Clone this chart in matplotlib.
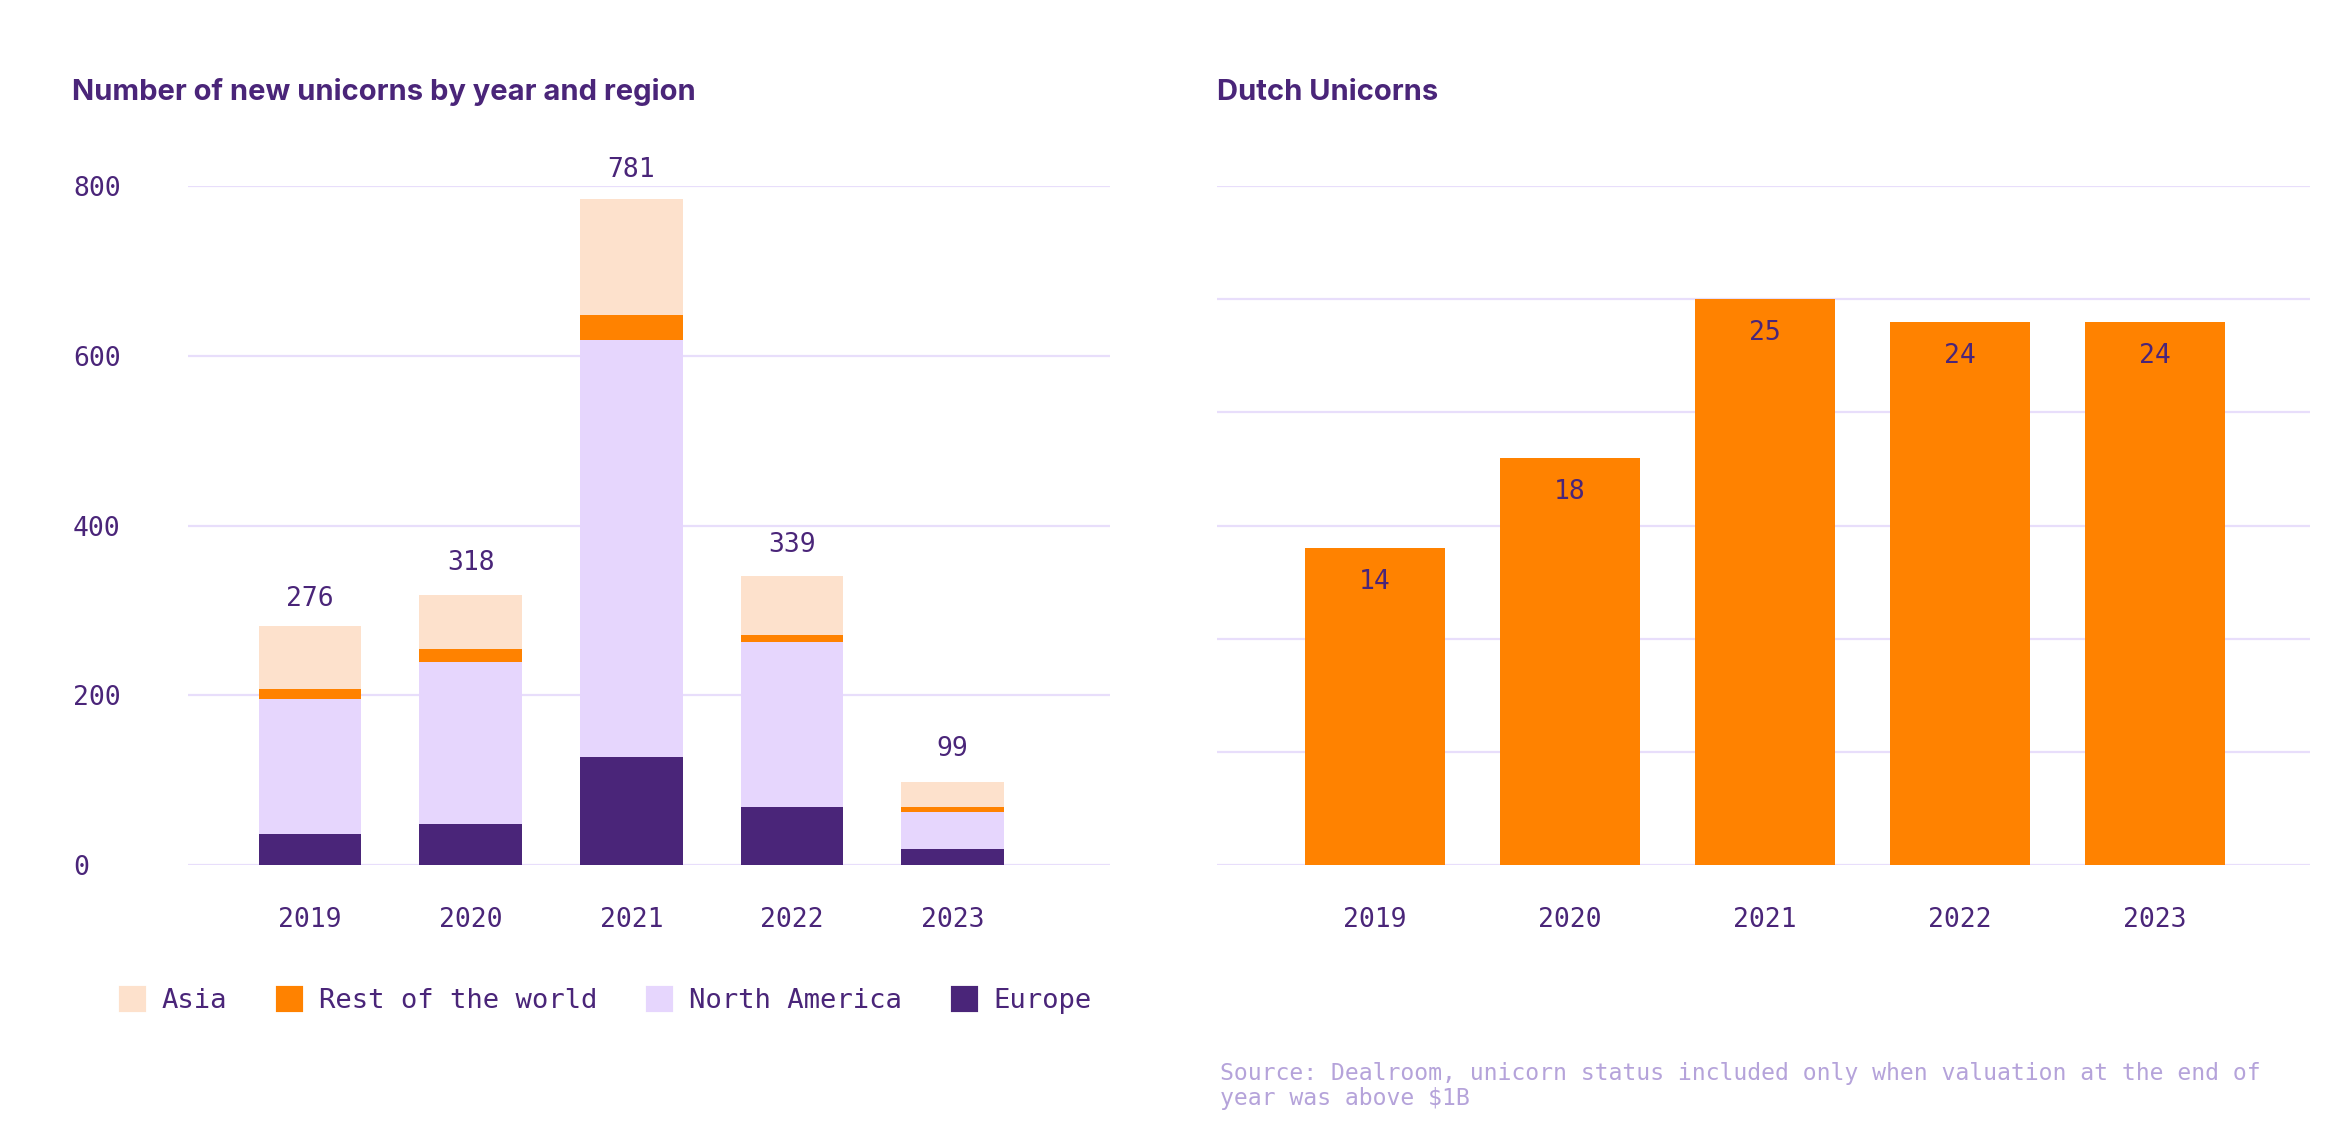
import numpy as np
import matplotlib
matplotlib.use("Agg")
import matplotlib.pyplot as plt
from matplotlib.patches import Patch

# data
years = ["2019", "2020", "2021", "2022", "2023"]
europe = [37, 48, 127, 68, 19]
north_america = [158, 191, 492, 195, 43]
rest_of_world = [12, 16, 29, 8, 6]
asia = [75, 63, 137, 70, 30]
totals = [276, 318, 781, 339, 99]

dutch = [14, 18, 25, 24, 24]

PURPLE = "#4a2579"
LAVENDER = "#e6d6fd"
ORANGE = "#ff8200"
PEACH = "#fde1cc"
GRID = "#e8defb"
SOURCE = "#b5a3da"

MONO = "DejaVu Sans Mono"

W, H = 2336, 1142
fig = plt.figure(figsize=(W / 100, H / 100), dpi=100)


def fx(px):
    return px / W


def fy(py):
    return 1 - py / H


def style_axes(ax):
    for s in ax.spines.values():
        s.set_visible(False)
    ax.set_axisbelow(True)
    ax.grid(axis="y", color=GRID, linewidth=1.6)
    ax.grid(axis="x", visible=False)
    ax.tick_params(axis="both", length=0, labelcolor=PURPLE, labelsize=19)
    for lab in ax.get_xticklabels() + ax.get_yticklabels():
        lab.set_family(MONO)


# ---- left: stacked bars by region
ax1 = fig.add_axes([fx(188), fy(865), fx(1110 - 188), (865 - 186) / H])
x = np.arange(len(years))
bw = 0.64
bottom = np.zeros(len(years))
for vals, col in [(europe, PURPLE), (north_america, LAVENDER),
                  (rest_of_world, ORANGE), (asia, PEACH)]:
    ax1.bar(x, vals, bw, bottom=bottom, color=col, linewidth=0)
    bottom += np.array(vals)

for xi, t in zip(x, totals):
    ax1.annotate(str(t), (xi, t), xytext=(0, 23), textcoords="offset points",
                 ha="center", va="center", fontsize=19, family=MONO,
                 color=PURPLE, annotation_clip=False)

ax1.set_ylim(0, 800)
ax1.set_xlim(-0.76, 4.98)
ax1.set_yticks([0, 200, 400, 600, 800])
ax1.set_xticks(x, years)
style_axes(ax1)
ax1.tick_params(axis="y", pad=82.8)
for lab in ax1.get_yticklabels():
    lab.set_horizontalalignment("left")
ax1.tick_params(axis="x", pad=30)

# ---- right: Dutch unicorns
ax2 = fig.add_axes([fx(1217), fy(865), fx(2310 - 1217), (865 - 186) / H])
ax2.bar(x, dutch, 0.72, color=ORANGE, linewidth=0)
for xi, v in zip(x, dutch):
    ax2.annotate(str(v), (xi, v), xytext=(0, -24.5), textcoords="offset points",
                 ha="center", va="center", fontsize=19, family=MONO,
                 color=PURPLE)
ax2.set_ylim(0, 30)
ax2.set_xlim(-0.81, 4.795)
ax2.set_yticks(np.arange(0, 31, 5))
ax2.set_yticklabels([])
ax2.set_xticks(x, years)
style_axes(ax2)
ax2.tick_params(axis="x", pad=30)

# ---- titles
fig.text(fx(72), fy(92), "Number of new unicorns by year and region",
         ha="left", va="center", fontsize=21, fontweight="bold",
         family="Inter", color=PURPLE)
fig.text(fx(1217), fy(92), "Dutch Unicorns",
         ha="left", va="center", fontsize=21, fontweight="bold",
         family="Inter", color=PURPLE)

# ---- legend
handles = [Patch(facecolor=c, edgecolor=c, linewidth=3, joinstyle="round")
           for c in [PEACH, ORANGE, LAVENDER, PURPLE]]
labels = ["Asia", "Rest of the world", "North America", "Europe"]
fig.legend(handles, labels, loc="center left", bbox_to_anchor=(fx(121), fy(1001)),
           ncol=4, frameon=False, borderpad=0, borderaxespad=0,
           handlelength=0.85, handleheight=0.85, handletextpad=0.65,
           columnspacing=1.87, labelcolor=PURPLE,
           prop={"family": MONO, "size": 19.6})

# ---- source note
fig.text(fx(1220), fy(1062),
         "Source: Dealroom, unicorn status included only when valuation at the end of\n"
         "year was above $1B",
         ha="left", va="top", fontsize=16.7, family=MONO, color=SOURCE,
         linespacing=1.1)

fig.savefig("out.png", dpi=100, facecolor="white")
